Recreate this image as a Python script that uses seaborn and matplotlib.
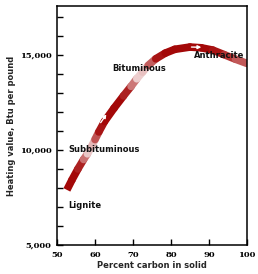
import numpy as np
import matplotlib
matplotlib.use('Agg')
import matplotlib.pyplot as plt
from matplotlib.collections import LineCollection
from matplotlib.colors import to_rgb
import seaborn as sns

sns.set_style('ticks')

# band through the chart
carbon = [52.6, 54.0, 55.5, 57.0, 58.0, 59.0, 60.0, 61.0, 62.5, 65.0, 67.5,
          69.5, 71.0, 72.5, 74.0, 76.0, 78.5, 81.0, 85.0, 88.0, 91.0, 94.0,
          97.0, 100.0]
btu = [7900, 8450, 9000, 9500, 9800, 10150, 10550, 10950, 11500, 12200, 12850,
       13350, 13750, 14100, 14450, 14800, 15100, 15300, 15420, 15380, 15260,
       15020, 14780, 14560]
# how strong the red is at each point (0 = white)
shade = [1.0, 1.0, 1.0, 0.8, 0.35, 0.1, 0.5, 0.9, 1.0, 1.0, 1.0,
         0.8, 0.3, 0.1, 0.4, 0.9, 1.0, 1.0, 1.0, 1.0, 1.0, 0.9,
         0.75, 0.6]

coal_names = ['Lignite', 'Subbituminous', 'Bituminous', 'Anthracite']
name_x = [52.9, 52.9, 64.5, 86.1]
name_y = [7100, 10050, 14310, 14950]

x_ticks = [50, 60, 70, 80, 90, 100]
y_ticks = list(range(5000, 18000, 1000))

red = np.array(to_rgb('#a30808'))
white = np.array([1.0, 1.0, 1.0])

fig, ax = plt.subplots(figsize=(2.58, 2.74), dpi=100)
fig.subplots_adjust(left=0.221, right=0.957, bottom=0.106, top=0.978)

pts = np.column_stack([carbon, btu])
segs = np.stack([pts[:-1], pts[1:]], axis=1)
seg_shade = [(shade[i] + shade[i + 1]) / 2 for i in range(len(shade) - 1)]
colors = [white + (red - white) * s for s in seg_shade]
# first piece flat-ended, the rest with round caps so the joints close up
ax.add_collection(LineCollection(segs[:1], colors=colors[:1], linewidths=5.5,
                                 capstyle='butt'))
ax.add_collection(LineCollection(segs[1:], colors=colors[1:], linewidths=5.5,
                                 capstyle='round', joinstyle='round'))

# little white arrows on the band
arrow_kw = dict(arrowstyle='-|>', color='white', lw=1.0, mutation_scale=5,
                shrinkA=0, shrinkB=0)
ax.annotate('', xy=(63.0, 11880), xytext=(61.5, 11440), arrowprops=arrow_kw)
ax.annotate('', xy=(88.0, 15410), xytext=(85.4, 15420), arrowprops=arrow_kw)

for name, tx, ty in zip(coal_names, name_x, name_y):
    ax.text(tx, ty, name, fontsize=6, fontweight='bold', ha='left',
            va='center', color='#111111', family='DejaVu Sans')

ax.set_xlim(50, 100)
ax.set_ylim(5000, 17580)
ax.set_xticks(x_ticks)
ax.set_xticklabels([str(v) for v in x_ticks])
ax.set_yticks(y_ticks)
ax.set_yticklabels([f'{v:,}' if v % 5000 == 0 else '' for v in y_ticks])
ax.tick_params(axis='both', direction='in', length=4.5, width=1, colors='black',
               labelsize=6, pad=4)
for lab in ax.get_xticklabels() + ax.get_yticklabels():
    lab.set_family('DejaVu Serif')
    lab.set_fontweight('bold')

for sp in ax.spines.values():
    sp.set_visible(True)
    sp.set_linewidth(1.1)
    sp.set_color('black')

ax.set_xlabel('Percent carbon in solid', fontsize=6, fontweight='bold',
              family='DejaVu Sans', labelpad=2)
ax.set_ylabel('Heating value, Btu per pound', fontsize=6, fontweight='bold',
              family='DejaVu Sans', labelpad=3)

fig.savefig('out.png', dpi=100)
